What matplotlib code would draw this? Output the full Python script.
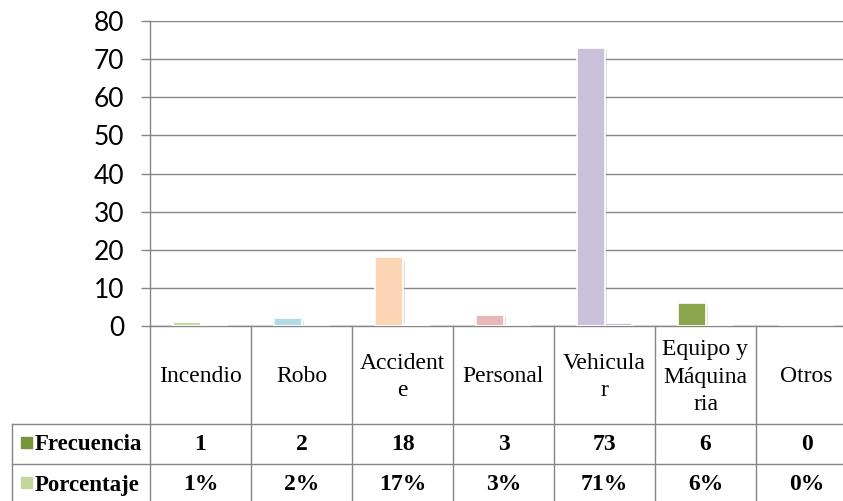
import matplotlib
matplotlib.use("Agg")
import matplotlib.pyplot as plt
import matplotlib.patheffects as pe
from matplotlib.transforms import blended_transform_factory
import numpy as np

categories = ["Incendio", "Robo", "Accident\ne", "Personal", "Vehicula\nr",
              "Equipo y\nMáquina\nria", "Otros"]
frecuencia = [1, 2, 18, 3, 73, 6, 0]
porcentaje = [0.01, 0.02, 0.17, 0.03, 0.71, 0.06, 0.00]
porcentaje_labels = ["1%", "2%", "17%", "3%", "71%", "6%", "0%"]
bar_colors = ["#c9d9a5", "#b3dbe6", "#fcd5b5", "#e6b9b8", "#cbc1db", "#8aa64d", "#a6bfe0"]
series_names = ["Frecuencia", "Porcentaje"]
series_colors = ["#77933c", "#c3d69b"]
yticks = [0, 10, 20, 30, 40, 50, 60, 70, 80]

W, H = 843, 501
fig = plt.figure(figsize=(W / 100, H / 100), dpi=100)

# plot area in pixels
x0, y_top, y_zero = 150, 21, 326
col_w = 101
n = len(categories)
ax = fig.add_axes([x0 / W, (H - y_zero) / H, n * col_w / W, (y_zero - y_top) / H])

grid_c = "#868686"
ax.set_xlim(0, n)
ax.set_ylim(0, 80)
ax.set_yticks(yticks)
ax.yaxis.grid(True, color=grid_c, lw=1.0)
ax.set_axisbelow(True)
ax.set_xticks([])
for s in ["top", "right"]:
    ax.spines[s].set_visible(False)
for s in ["left", "bottom"]:
    ax.spines[s].set_color(grid_c)
    ax.spines[s].set_linewidth(1.0)
ax.tick_params(axis="y", length=6.5, color=grid_c, width=1.0, pad=12,
               labelsize=19, labelcolor="#000000")
for lab in ax.get_yticklabels():
    lab.set_family("Lato")

x = np.arange(n) + 0.5
bw = 0.27
shadow = [pe.SimplePatchShadow(offset=(2, -2), shadow_rgbFace="#999999", alpha=0.3),
          pe.Normal()]
b1 = ax.bar(x - bw / 2, frecuencia, bw, color=bar_colors, edgecolor="white", lw=1.2, zorder=3)
b2 = ax.bar(x + bw / 2, porcentaje, bw, color=bar_colors, edgecolor="white", lw=1.2, zorder=3)
for b in list(b1) + list(b2):
    b.set_path_effects(shadow)

# data table beneath the axis
def ay(ypix):
    return (y_zero - ypix) / (y_zero - y_top)

def dx(xpix):
    return (xpix - x0) / col_w

bt = blended_transform_factory(ax.transData, ax.transAxes)

left_edge = dx(12)
line_kw = dict(color=grid_c, lw=1.0, transform=bt, clip_on=False)
for i in range(n + 1):
    ax.plot([i, i], [ay(326), ay(H + 5)], **line_kw)
ax.plot([left_edge, left_edge], [ay(424), ay(H + 5)], **line_kw)
for yp in (424, 464):
    ax.plot([left_edge, n], [ay(yp), ay(yp)], **line_kw)

serif = "Liberation Serif"
for i, cat in enumerate(categories):
    ax.text(x[i], ay(377), cat, transform=bt, ha="center", va="center",
            fontsize=17, family=serif, linespacing=1.38, clip_on=False)
    ax.text(x[i], ay(445), str(frecuencia[i]), transform=bt, ha="center", va="center",
            fontsize=17, family=serif, fontweight="bold", clip_on=False)
    ax.text(x[i], ay(485), porcentaje_labels[i], transform=bt, ha="center", va="center",
            fontsize=17, family=serif, fontweight="bold", clip_on=False)

for name, col, yp in zip(series_names, series_colors, (443, 483)):
    fig.patches.append(plt.Rectangle((21 / W, (H - yp - 5) / H), 11 / W, 11 / H,
                                     transform=fig.transFigure, color=col))
    fig.text(35 / W, (H - yp - 2) / H, name, ha="left", va="center",
             fontsize=16.5, family=serif, fontweight="bold")

fig.savefig("out.png", dpi=100)
